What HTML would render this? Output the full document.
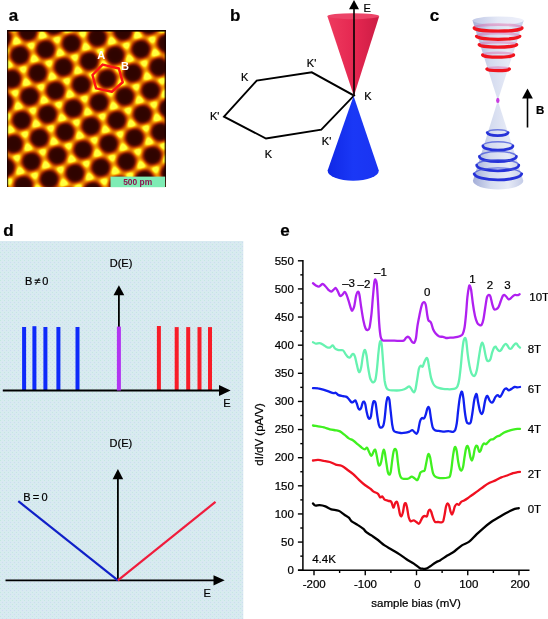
<!DOCTYPE html>
<html><head><meta charset="utf-8"><title>figure</title>
<style>html,body{margin:0;padding:0;background:#fff}svg{display:block;opacity:0.999}text{font-family:"Liberation Sans",sans-serif}text:not([fill]){stroke:#000;stroke-width:.22px}</style></head>
<body>
<svg width="548" height="619" viewBox="0 0 548 619">
<rect width="548" height="619" fill="#fff"/>
<defs><filter id="stm" filterUnits="userSpaceOnUse" x="-20" y="0" width="220" height="220" color-interpolation-filters="sRGB"><feComponentTransfer><feFuncR type="table" tableValues="0.188 0.197 0.207 0.216 0.225 0.234 0.243 0.270 0.297 0.324 0.351 0.378 0.405 0.432 0.459 0.486 0.513 0.540 0.566 0.593 0.620 0.646 0.673 0.700 0.726 0.753 0.774 0.795 0.816 0.837 0.858 0.878 0.899 0.916 0.928 0.940 0.953 0.965 0.974 0.982 0.991 1.000 1.000 1.000 1.000 1.000 1.000 1.000 1.000 1.000 1.000"/><feFuncG type="table" tableValues="0.016 0.018 0.020 0.022 0.024 0.025 0.027 0.035 0.042 0.050 0.057 0.064 0.072 0.079 0.087 0.094 0.113 0.132 0.151 0.169 0.188 0.207 0.226 0.245 0.264 0.282 0.312 0.341 0.370 0.399 0.429 0.458 0.487 0.521 0.559 0.598 0.636 0.675 0.729 0.784 0.839 0.894 0.929 0.965 1.000 1.000 1.000 1.000 1.000 1.000 1.000"/><feFuncB type="table" tableValues="0.000 0.000 0.000 0.000 0.000 0.000 0.000 0.000 0.000 0.000 0.000 0.000 0.000 0.000 0.000 0.000 0.000 0.000 0.000 0.000 0.000 0.000 0.000 0.000 0.000 0.000 0.000 0.000 0.000 0.000 0.000 0.000 0.000 0.003 0.010 0.017 0.024 0.031 0.055 0.078 0.102 0.125 0.157 0.188 0.220 0.230 0.241 0.251 0.261 0.272 0.282"/></feComponentTransfer></filter>
<filter id="blA" filterUnits="userSpaceOnUse" x="-20" y="0" width="220" height="220" color-interpolation-filters="sRGB"><feGaussianBlur stdDeviation="2.20"/></filter>
<filter id="blB" filterUnits="userSpaceOnUse" x="-20" y="0" width="220" height="220" color-interpolation-filters="sRGB"><feGaussianBlur stdDeviation="2.00"/></filter>
<clipPath id="stmclip"><rect x="7" y="30" width="159" height="157"/></clipPath>
<linearGradient id="gred" x1="0" x2="1"><stop offset="0" stop-color="#ee3a5e"/><stop offset="0.55" stop-color="#e42650"/><stop offset="1" stop-color="#cc1c44"/></linearGradient>
<linearGradient id="gblue" x1="0" x2="1"><stop offset="0" stop-color="#1028e6"/><stop offset="0.5" stop-color="#1a38f6"/><stop offset="1" stop-color="#1a34f2"/></linearGradient>
<linearGradient id="gcone" x1="0" x2="1"><stop offset="0" stop-color="#a4aed8"/><stop offset="0.35" stop-color="#d4dbef"/><stop offset="0.7" stop-color="#e6eaf6"/><stop offset="1" stop-color="#c4cce8"/></linearGradient>
<linearGradient id="gtop" x1="0" x2="1"><stop offset="0" stop-color="#c0c8e6"/><stop offset="0.5" stop-color="#e4e8f6"/><stop offset="1" stop-color="#eef0fa"/></linearGradient>
<pattern id="dots" width="4" height="4" patternUnits="userSpaceOnUse"><rect width="4" height="4" fill="#d8eaf0"/><rect x="0" y="0" width="1" height="1" fill="#c4e8e0"/><rect x="2" y="2" width="1" height="1" fill="#ccdcf0"/></pattern></defs>
<text x="8.7" y="20.5" font-size="17" font-weight="bold">a</text>
<g clip-path="url(#stmclip)"><g filter="url(#stm)"><g filter="url(#blA)"><rect x="-20" y="0" width="220" height="220" fill="#a0a0a0"/>
<circle cx="8.9" cy="181.3" r="4.6" fill="#fff"/>
<circle cx="2.4" cy="153.7" r="5.3" fill="#fff"/>
<circle cx="16.9" cy="157.6" r="4.6" fill="#fff"/>
<circle cx="20.1" cy="171.4" r="5.3" fill="#fff"/>
<circle cx="34.7" cy="175.3" r="4.6" fill="#fff"/>
<circle cx="37.9" cy="189.1" r="5.3" fill="#fff"/>
<circle cx="7.1" cy="116.3" r="4.6" fill="#fff"/>
<circle cx="10.4" cy="130.1" r="5.3" fill="#fff"/>
<circle cx="24.9" cy="134.0" r="4.6" fill="#fff"/>
<circle cx="28.2" cy="147.8" r="5.3" fill="#fff"/>
<circle cx="42.7" cy="151.7" r="4.6" fill="#fff"/>
<circle cx="45.9" cy="165.5" r="5.3" fill="#fff"/>
<circle cx="60.5" cy="169.4" r="4.6" fill="#fff"/>
<circle cx="63.7" cy="183.2" r="5.3" fill="#fff"/>
<circle cx="78.3" cy="187.1" r="4.6" fill="#fff"/>
<circle cx="15.2" cy="92.7" r="4.6" fill="#fff"/>
<circle cx="18.4" cy="106.5" r="5.3" fill="#fff"/>
<circle cx="32.9" cy="110.4" r="4.6" fill="#fff"/>
<circle cx="36.2" cy="124.2" r="5.3" fill="#fff"/>
<circle cx="50.7" cy="128.1" r="4.6" fill="#fff"/>
<circle cx="54.0" cy="141.9" r="5.3" fill="#fff"/>
<circle cx="68.5" cy="145.8" r="4.6" fill="#fff"/>
<circle cx="71.7" cy="159.6" r="5.3" fill="#fff"/>
<circle cx="86.3" cy="163.5" r="4.6" fill="#fff"/>
<circle cx="89.5" cy="177.3" r="5.3" fill="#fff"/>
<circle cx="104.1" cy="181.2" r="4.6" fill="#fff"/>
<circle cx="5.4" cy="51.4" r="4.6" fill="#fff"/>
<circle cx="8.6" cy="65.1" r="5.3" fill="#fff"/>
<circle cx="23.2" cy="69.1" r="4.6" fill="#fff"/>
<circle cx="26.4" cy="82.8" r="5.3" fill="#fff"/>
<circle cx="41.0" cy="86.8" r="4.6" fill="#fff"/>
<circle cx="44.2" cy="100.5" r="5.3" fill="#fff"/>
<circle cx="58.7" cy="104.5" r="4.6" fill="#fff"/>
<circle cx="62.0" cy="118.2" r="5.3" fill="#fff"/>
<circle cx="76.5" cy="122.2" r="4.6" fill="#fff"/>
<circle cx="79.8" cy="135.9" r="5.3" fill="#fff"/>
<circle cx="94.3" cy="139.9" r="4.6" fill="#fff"/>
<circle cx="97.5" cy="153.6" r="5.3" fill="#fff"/>
<circle cx="112.1" cy="157.6" r="4.6" fill="#fff"/>
<circle cx="115.3" cy="171.3" r="5.3" fill="#fff"/>
<circle cx="129.9" cy="175.3" r="4.6" fill="#fff"/>
<circle cx="133.1" cy="189.0" r="5.3" fill="#fff"/>
<circle cx="147.6" cy="193.0" r="4.6" fill="#fff"/>
<circle cx="13.4" cy="27.7" r="4.6" fill="#fff"/>
<circle cx="16.7" cy="41.5" r="5.3" fill="#fff"/>
<circle cx="31.2" cy="45.4" r="4.6" fill="#fff"/>
<circle cx="34.4" cy="59.2" r="5.3" fill="#fff"/>
<circle cx="49.0" cy="63.1" r="4.6" fill="#fff"/>
<circle cx="52.2" cy="76.9" r="5.3" fill="#fff"/>
<circle cx="66.8" cy="80.8" r="4.6" fill="#fff"/>
<circle cx="70.0" cy="94.6" r="5.3" fill="#fff"/>
<circle cx="84.5" cy="98.5" r="4.6" fill="#fff"/>
<circle cx="87.8" cy="112.3" r="5.3" fill="#fff"/>
<circle cx="102.3" cy="116.2" r="4.6" fill="#fff"/>
<circle cx="105.6" cy="130.0" r="5.3" fill="#fff"/>
<circle cx="120.1" cy="133.9" r="4.6" fill="#fff"/>
<circle cx="123.3" cy="147.7" r="5.3" fill="#fff"/>
<circle cx="137.9" cy="151.6" r="4.6" fill="#fff"/>
<circle cx="141.1" cy="165.4" r="5.3" fill="#fff"/>
<circle cx="155.7" cy="169.3" r="4.6" fill="#fff"/>
<circle cx="158.9" cy="183.1" r="5.3" fill="#fff"/>
<circle cx="42.5" cy="35.6" r="5.3" fill="#fff"/>
<circle cx="57.0" cy="39.5" r="4.6" fill="#fff"/>
<circle cx="60.2" cy="53.3" r="5.3" fill="#fff"/>
<circle cx="74.8" cy="57.2" r="4.6" fill="#fff"/>
<circle cx="78.0" cy="71.0" r="5.3" fill="#fff"/>
<circle cx="92.6" cy="74.9" r="4.6" fill="#fff"/>
<circle cx="95.8" cy="88.7" r="5.3" fill="#fff"/>
<circle cx="110.3" cy="92.6" r="4.6" fill="#fff"/>
<circle cx="113.6" cy="106.4" r="5.3" fill="#fff"/>
<circle cx="128.1" cy="110.3" r="4.6" fill="#fff"/>
<circle cx="131.4" cy="124.1" r="5.3" fill="#fff"/>
<circle cx="145.9" cy="128.0" r="4.6" fill="#fff"/>
<circle cx="149.1" cy="141.8" r="5.3" fill="#fff"/>
<circle cx="163.7" cy="145.7" r="4.6" fill="#fff"/>
<circle cx="166.9" cy="159.5" r="5.3" fill="#fff"/>
<circle cx="68.3" cy="29.6" r="5.3" fill="#fff"/>
<circle cx="82.8" cy="33.6" r="4.6" fill="#fff"/>
<circle cx="86.0" cy="47.3" r="5.3" fill="#fff"/>
<circle cx="100.6" cy="51.3" r="4.6" fill="#fff"/>
<circle cx="103.8" cy="65.0" r="5.3" fill="#fff"/>
<circle cx="118.4" cy="69.0" r="4.6" fill="#fff"/>
<circle cx="121.6" cy="82.7" r="5.3" fill="#fff"/>
<circle cx="136.1" cy="86.7" r="4.6" fill="#fff"/>
<circle cx="139.4" cy="100.4" r="5.3" fill="#fff"/>
<circle cx="153.9" cy="104.4" r="4.6" fill="#fff"/>
<circle cx="157.2" cy="118.1" r="5.3" fill="#fff"/>
<circle cx="171.7" cy="122.1" r="4.6" fill="#fff"/>
<circle cx="108.6" cy="27.6" r="4.6" fill="#fff"/>
<circle cx="111.8" cy="41.4" r="5.3" fill="#fff"/>
<circle cx="126.4" cy="45.3" r="4.6" fill="#fff"/>
<circle cx="129.6" cy="59.1" r="5.3" fill="#fff"/>
<circle cx="144.2" cy="63.0" r="4.6" fill="#fff"/>
<circle cx="147.4" cy="76.8" r="5.3" fill="#fff"/>
<circle cx="161.9" cy="80.7" r="4.6" fill="#fff"/>
<circle cx="165.2" cy="94.5" r="5.3" fill="#fff"/>
<circle cx="137.6" cy="35.5" r="5.3" fill="#fff"/>
<circle cx="152.2" cy="39.4" r="4.6" fill="#fff"/>
<circle cx="155.4" cy="53.2" r="5.3" fill="#fff"/>
<circle cx="170.0" cy="57.1" r="4.6" fill="#fff"/>
<circle cx="163.4" cy="29.6" r="5.3" fill="#fff"/>
</g><g filter="url(#blB)">
<circle cx="-2.4" cy="191.1" r="9.2" fill="#000"/>
<circle cx="5.6" cy="167.5" r="9.2" fill="#000"/>
<circle cx="23.4" cy="185.2" r="9.2" fill="#000"/>
<circle cx="41.2" cy="202.9" r="9.2" fill="#000"/>
<circle cx="-4.1" cy="126.2" r="9.2" fill="#000"/>
<circle cx="13.6" cy="143.9" r="9.2" fill="#000"/>
<circle cx="31.4" cy="161.6" r="9.2" fill="#000"/>
<circle cx="49.2" cy="179.3" r="9.2" fill="#000"/>
<circle cx="67.0" cy="197.0" r="9.2" fill="#000"/>
<circle cx="3.9" cy="102.5" r="9.2" fill="#000"/>
<circle cx="21.7" cy="120.2" r="9.2" fill="#000"/>
<circle cx="39.4" cy="137.9" r="9.2" fill="#000"/>
<circle cx="57.2" cy="155.6" r="9.2" fill="#000"/>
<circle cx="75.0" cy="173.3" r="9.2" fill="#000"/>
<circle cx="92.8" cy="191.0" r="9.2" fill="#000"/>
<circle cx="-5.9" cy="61.2" r="9.2" fill="#000"/>
<circle cx="11.9" cy="78.9" r="9.2" fill="#000"/>
<circle cx="29.7" cy="96.6" r="9.2" fill="#000"/>
<circle cx="47.5" cy="114.3" r="9.2" fill="#000"/>
<circle cx="65.2" cy="132.0" r="9.2" fill="#000"/>
<circle cx="83.0" cy="149.7" r="9.2" fill="#000"/>
<circle cx="100.8" cy="167.4" r="9.2" fill="#000"/>
<circle cx="118.6" cy="185.1" r="9.2" fill="#000"/>
<circle cx="136.4" cy="202.8" r="9.2" fill="#000"/>
<circle cx="2.1" cy="37.6" r="9.2" fill="#000"/>
<circle cx="19.9" cy="55.3" r="9.2" fill="#000"/>
<circle cx="37.7" cy="73.0" r="9.2" fill="#000"/>
<circle cx="55.5" cy="90.7" r="9.2" fill="#000"/>
<circle cx="73.3" cy="108.4" r="9.2" fill="#000"/>
<circle cx="91.0" cy="126.1" r="9.2" fill="#000"/>
<circle cx="108.8" cy="143.8" r="9.2" fill="#000"/>
<circle cx="126.6" cy="161.5" r="9.2" fill="#000"/>
<circle cx="144.4" cy="179.2" r="9.2" fill="#000"/>
<circle cx="162.2" cy="196.9" r="9.2" fill="#000"/>
<circle cx="27.9" cy="31.7" r="9.2" fill="#000"/>
<circle cx="45.7" cy="49.4" r="9.2" fill="#000"/>
<circle cx="63.5" cy="67.0" r="9.2" fill="#000"/>
<circle cx="81.3" cy="84.8" r="9.2" fill="#000"/>
<circle cx="99.1" cy="102.5" r="9.2" fill="#000"/>
<circle cx="116.8" cy="120.2" r="9.2" fill="#000"/>
<circle cx="134.6" cy="137.8" r="9.2" fill="#000"/>
<circle cx="152.4" cy="155.6" r="9.2" fill="#000"/>
<circle cx="170.2" cy="173.2" r="9.2" fill="#000"/>
<circle cx="53.7" cy="25.7" r="9.2" fill="#000"/>
<circle cx="71.5" cy="43.4" r="9.2" fill="#000"/>
<circle cx="89.3" cy="61.1" r="9.2" fill="#000"/>
<circle cx="107.1" cy="78.8" r="9.2" fill="#000"/>
<circle cx="124.9" cy="96.5" r="9.2" fill="#000"/>
<circle cx="142.6" cy="114.2" r="9.2" fill="#000"/>
<circle cx="160.4" cy="131.9" r="9.2" fill="#000"/>
<circle cx="178.2" cy="149.6" r="9.2" fill="#000"/>
<circle cx="79.5" cy="19.8" r="9.2" fill="#000"/>
<circle cx="97.3" cy="37.5" r="9.2" fill="#000"/>
<circle cx="115.1" cy="55.2" r="9.2" fill="#000"/>
<circle cx="132.9" cy="72.9" r="9.2" fill="#000"/>
<circle cx="150.7" cy="90.6" r="9.2" fill="#000"/>
<circle cx="168.4" cy="108.3" r="9.2" fill="#000"/>
<circle cx="123.1" cy="31.6" r="9.2" fill="#000"/>
<circle cx="140.9" cy="49.3" r="9.2" fill="#000"/>
<circle cx="158.7" cy="67.0" r="9.2" fill="#000"/>
<circle cx="176.5" cy="84.7" r="9.2" fill="#000"/>
<circle cx="148.9" cy="25.6" r="9.2" fill="#000"/>
<circle cx="166.7" cy="43.3" r="9.2" fill="#000"/>
<circle cx="174.7" cy="19.7" r="9.2" fill="#000"/>
</g></g>
<rect x="7" y="30" width="159" height="1.6" fill="#180000"/>
<rect x="7" y="30" width="1.2" height="157" fill="#180000" opacity="0.8"/>
<rect x="164.6" y="30" width="1.4" height="157" fill="#180000" opacity="0.8"/>
</g>
<polygon points="102.6,64.6 118.9,68.5 122.7,82.2 111.9,91.8 96.1,88.4 92.5,75" fill="none" stroke="#ff1414" stroke-width="2.5" stroke-linejoin="round"/>
<text x="97.3" y="58.5" font-size="11" font-weight="bold" fill="#fff">A</text>
<text x="121" y="69.7" font-size="11" font-weight="bold" fill="#fff">B</text>
<rect x="110.5" y="176.6" width="54.6" height="10.6" fill="#7eecb4"/>
<text x="123.2" y="185.4" font-size="8.6" font-weight="bold" fill="#8c1450" textLength="29" lengthAdjust="spacingAndGlyphs">500 pm</text>
<text x="229.9" y="20.8" font-size="17" font-weight="bold">b</text>
<polygon points="224,116.7 256.7,80.6 311.8,72.3 354,95.6 321.3,129.7 266,138.5" fill="none" stroke="#000" stroke-width="1.9" stroke-linejoin="miter"/>
<path d="M327.4 16.2 L353.9 96 L379.2 16.2 Z" fill="url(#gred)"/>
<ellipse cx="353.3" cy="16.2" rx="25.9" ry="3" fill="#ec4468"/>
<path d="M353.6 96 L327.6 170.5 A25.6 10.3 0 0 0 378.8 170.5 Z" fill="url(#gblue)"/>
<line x1="354" y1="6" x2="354" y2="96" stroke="#000" stroke-width="1.6"/>
<polygon points="354,0 349,9.2 359,9.2" fill="#000"/>
<text x="363.6" y="11.9" font-size="11">E</text>
<text x="240.9" y="81.1" font-size="11">K</text>
<text x="306.8" y="67.3" font-size="11">K'</text>
<text x="364.2" y="100.4" font-size="11">K</text>
<text x="210.0" y="119.8" font-size="11">K'</text>
<text x="264.8" y="157.5" font-size="11">K</text>
<text x="321.8" y="144.7" font-size="11">K'</text>
<text x="429.8" y="20.8" font-size="17" font-weight="bold">c</text>
<path d="M472.5 20.5 L497.8 100.4 L523.7 20.5 Z" fill="url(#gcone)"/>
<ellipse cx="498.1" cy="20.5" rx="25.6" ry="4" fill="url(#gtop)"/>
<path d="M497.8 100.4 L472.9 180.7 A25.2 8.8 0 0 0 523.3 180.7 Z" fill="url(#gcone)"/>
<path d="M474.2 27.9 A23.9 3.3 0 0 1 522.0 27.9" fill="none" stroke="#e0509a" stroke-opacity="0.38" stroke-width="2.6"/>
<path d="M474.2 27.9 A23.9 3.3 0 0 0 522.0 27.9" fill="none" stroke="#f0141e" stroke-width="3.3" stroke-linecap="round"/>
<path d="M476.5 36.3 A21.7 3.0 0 0 1 519.9 36.3" fill="none" stroke="#e0509a" stroke-opacity="0.38" stroke-width="2.6"/>
<path d="M476.5 36.3 A21.7 3.0 0 0 0 519.9 36.3" fill="none" stroke="#f0141e" stroke-width="3.3" stroke-linecap="round"/>
<path d="M479.3 44.7 A18.7 2.6 0 0 1 516.6 44.7" fill="none" stroke="#e0509a" stroke-opacity="0.38" stroke-width="2.6"/>
<path d="M479.3 44.7 A18.7 2.6 0 0 0 516.6 44.7" fill="none" stroke="#f0141e" stroke-width="3.3" stroke-linecap="round"/>
<path d="M482.6 55.0 A15.5 2.2 0 0 1 513.6 55.0" fill="none" stroke="#e0509a" stroke-opacity="0.38" stroke-width="2.6"/>
<path d="M482.6 55.0 A15.5 2.2 0 0 0 513.6 55.0" fill="none" stroke="#f0141e" stroke-width="3.3" stroke-linecap="round"/>
<path d="M487.0 69.1 A11.2 1.6 0 0 1 509.3 69.1" fill="none" stroke="#e0509a" stroke-opacity="0.38" stroke-width="2.6"/>
<path d="M487.0 69.1 A11.2 1.6 0 0 0 509.3 69.1" fill="none" stroke="#f0141e" stroke-width="3.3" stroke-linecap="round"/>
<path d="M487.2 132.7 A10.5 3.3 0 0 1 508.1 132.7" fill="none" stroke="#4656d8" stroke-opacity="0.75" stroke-width="1.4"/>
<path d="M487.2 132.7 A10.5 3.3 0 0 0 508.1 132.7" fill="none" stroke="#2632d8" stroke-width="2.8" stroke-linecap="round"/>
<path d="M482.9 145.9 A15.0 4.2 0 0 1 512.9 145.9" fill="none" stroke="#4656d8" stroke-opacity="0.75" stroke-width="1.4"/>
<path d="M482.9 145.9 A15.0 4.2 0 0 0 512.9 145.9" fill="none" stroke="#2632d8" stroke-width="2.8" stroke-linecap="round"/>
<path d="M479.4 156.5 A18.5 5.0 0 0 1 516.4 156.5" fill="none" stroke="#4656d8" stroke-opacity="0.75" stroke-width="1.4"/>
<path d="M479.4 156.5 A18.5 5.0 0 0 0 516.4 156.5" fill="none" stroke="#2632d8" stroke-width="2.8" stroke-linecap="round"/>
<path d="M476.7 165.2 A21.0 5.6 0 0 1 518.8 165.2" fill="none" stroke="#4656d8" stroke-opacity="0.75" stroke-width="1.4"/>
<path d="M476.7 165.2 A21.0 5.6 0 0 0 518.8 165.2" fill="none" stroke="#2632d8" stroke-width="2.8" stroke-linecap="round"/>
<path d="M474.2 173.9 A23.8 6.4 0 0 1 521.7 173.9" fill="none" stroke="#4656d8" stroke-opacity="0.75" stroke-width="1.4"/>
<path d="M474.2 173.9 A23.8 6.4 0 0 0 521.7 173.9" fill="none" stroke="#2632d8" stroke-width="2.8" stroke-linecap="round"/>
<ellipse cx="497.8" cy="100.4" rx="1.7" ry="2.6" fill="#c83ce0"/>
<line x1="527.5" y1="96" x2="527.5" y2="127.5" stroke="#000" stroke-width="1.6"/>
<polygon points="527.5,88.5 522.1,98.4 532.9,98.4" fill="#000"/>
<text x="536" y="114" font-size="11.5" font-weight="bold">B</text>
<text x="3.3" y="235.6" font-size="17" font-weight="bold">d</text>
<rect x="0" y="241" width="243.3" height="378" fill="url(#dots)"/>
<rect x="22.10" y="327.0" width="4" height="63.5" fill="#0e2afa"/>
<rect x="32.40" y="326.2" width="4" height="64.3" fill="#0e2afa"/>
<rect x="43.40" y="327.0" width="4" height="63.5" fill="#0e2afa"/>
<rect x="56.40" y="327.0" width="4" height="63.5" fill="#0e2afa"/>
<rect x="75.50" y="327.0" width="4" height="63.5" fill="#0e2afa"/>
<rect x="156.90" y="326.0" width="4" height="64.5" fill="#f81c28"/>
<rect x="174.70" y="327.1" width="4" height="63.4" fill="#f81c28"/>
<rect x="186.20" y="327.1" width="4" height="63.4" fill="#f81c28"/>
<rect x="197.50" y="327.1" width="4" height="63.4" fill="#f81c28"/>
<rect x="208.00" y="327.1" width="4" height="63.4" fill="#f81c28"/>
<line x1="2.8" y1="390.5" x2="222" y2="390.5" stroke="#000" stroke-width="1.8"/>
<polygon points="230.6,390.5 219,385.1 219,395.9" fill="#000"/>
<line x1="118.9" y1="294" x2="118.9" y2="390.3" stroke="#000" stroke-width="1.8"/>
<polygon points="118.9,285.2 113.5,295.2 124.3,295.2" fill="#000"/>
<rect x="116.9" y="326.6" width="4" height="63.9" fill="#b234f2"/>
<text x="109.7" y="267" font-size="11">D(E)</text>
<text x="223.2" y="407.2" font-size="11">E</text>
<text x="25" y="284.7" font-size="11" textLength="23.3">B≠0</text>
<line x1="5.5" y1="580.3" x2="216" y2="580.3" stroke="#000" stroke-width="1.8"/>
<polygon points="224.7,580.3 213.5,575.2 213.5,585.4" fill="#000"/>
<line x1="117.9" y1="478" x2="117.9" y2="580.3" stroke="#000" stroke-width="1.8"/>
<polygon points="117.9,469 112.6,479.3 123.2,479.3" fill="#000"/>
<line x1="18.3" y1="501.2" x2="117.9" y2="580.3" stroke="#1020c8" stroke-width="2.2"/>
<line x1="117.9" y1="580.3" x2="215.5" y2="501.9" stroke="#f01c3c" stroke-width="2.2"/>
<text x="109.6" y="447.2" font-size="11">D(E)</text>
<text x="203.4" y="596.7" font-size="11">E</text>
<text x="23.3" y="500.5" font-size="11" textLength="24.2">B=0</text>
<text x="280.2" y="235.9" font-size="17" font-weight="bold">e</text>
<line x1="302.9" y1="260.0" x2="302.9" y2="571.0" stroke="#000" stroke-width="1.5"/>
<line x1="298.0" y1="570.2" x2="529.5" y2="570.2" stroke="#000" stroke-width="1.5"/>
<line x1="297.9" y1="570.20" x2="302.9" y2="570.20" stroke="#000" stroke-width="1.4"/>
<text x="293.9" y="573.90" font-size="11.5" text-anchor="end">0</text>
<line x1="300.3" y1="556.14" x2="302.9" y2="556.14" stroke="#000" stroke-width="1.4"/>
<line x1="297.9" y1="542.07" x2="302.9" y2="542.07" stroke="#000" stroke-width="1.4"/>
<text x="293.9" y="545.77" font-size="11.5" text-anchor="end">50</text>
<line x1="300.3" y1="528.01" x2="302.9" y2="528.01" stroke="#000" stroke-width="1.4"/>
<line x1="297.9" y1="513.95" x2="302.9" y2="513.95" stroke="#000" stroke-width="1.4"/>
<text x="293.9" y="517.65" font-size="11.5" text-anchor="end">100</text>
<line x1="300.3" y1="499.88" x2="302.9" y2="499.88" stroke="#000" stroke-width="1.4"/>
<line x1="297.9" y1="485.82" x2="302.9" y2="485.82" stroke="#000" stroke-width="1.4"/>
<text x="293.9" y="489.52" font-size="11.5" text-anchor="end">150</text>
<line x1="300.3" y1="471.75" x2="302.9" y2="471.75" stroke="#000" stroke-width="1.4"/>
<line x1="297.9" y1="457.69" x2="302.9" y2="457.69" stroke="#000" stroke-width="1.4"/>
<text x="293.9" y="461.39" font-size="11.5" text-anchor="end">200</text>
<line x1="300.3" y1="443.63" x2="302.9" y2="443.63" stroke="#000" stroke-width="1.4"/>
<line x1="297.9" y1="429.56" x2="302.9" y2="429.56" stroke="#000" stroke-width="1.4"/>
<text x="293.9" y="433.26" font-size="11.5" text-anchor="end">250</text>
<line x1="300.3" y1="415.50" x2="302.9" y2="415.50" stroke="#000" stroke-width="1.4"/>
<line x1="297.9" y1="401.44" x2="302.9" y2="401.44" stroke="#000" stroke-width="1.4"/>
<text x="293.9" y="405.14" font-size="11.5" text-anchor="end">300</text>
<line x1="300.3" y1="387.37" x2="302.9" y2="387.37" stroke="#000" stroke-width="1.4"/>
<line x1="297.9" y1="373.31" x2="302.9" y2="373.31" stroke="#000" stroke-width="1.4"/>
<text x="293.9" y="377.01" font-size="11.5" text-anchor="end">350</text>
<line x1="300.3" y1="359.25" x2="302.9" y2="359.25" stroke="#000" stroke-width="1.4"/>
<line x1="297.9" y1="345.18" x2="302.9" y2="345.18" stroke="#000" stroke-width="1.4"/>
<text x="293.9" y="348.88" font-size="11.5" text-anchor="end">400</text>
<line x1="300.3" y1="331.12" x2="302.9" y2="331.12" stroke="#000" stroke-width="1.4"/>
<line x1="297.9" y1="317.05" x2="302.9" y2="317.05" stroke="#000" stroke-width="1.4"/>
<text x="293.9" y="320.75" font-size="11.5" text-anchor="end">450</text>
<line x1="300.3" y1="302.99" x2="302.9" y2="302.99" stroke="#000" stroke-width="1.4"/>
<line x1="297.9" y1="288.93" x2="302.9" y2="288.93" stroke="#000" stroke-width="1.4"/>
<text x="293.9" y="292.63" font-size="11.5" text-anchor="end">500</text>
<line x1="300.3" y1="274.86" x2="302.9" y2="274.86" stroke="#000" stroke-width="1.4"/>
<line x1="297.9" y1="260.80" x2="302.9" y2="260.80" stroke="#000" stroke-width="1.4"/>
<text x="293.9" y="264.50" font-size="11.5" text-anchor="end">550</text>
<line x1="314.00" y1="570.2" x2="314.00" y2="575.2" stroke="#000" stroke-width="1.4"/>
<text x="314.20" y="588.2" font-size="11.5" text-anchor="middle">-200</text>
<line x1="339.62" y1="570.2" x2="339.62" y2="573.0" stroke="#000" stroke-width="1.4"/>
<line x1="365.25" y1="570.2" x2="365.25" y2="575.2" stroke="#000" stroke-width="1.4"/>
<text x="365.45" y="588.2" font-size="11.5" text-anchor="middle">-100</text>
<line x1="390.88" y1="570.2" x2="390.88" y2="573.0" stroke="#000" stroke-width="1.4"/>
<line x1="416.50" y1="570.2" x2="416.50" y2="575.2" stroke="#000" stroke-width="1.4"/>
<text x="417.50" y="588.2" font-size="11.5" text-anchor="middle">0</text>
<line x1="442.12" y1="570.2" x2="442.12" y2="573.0" stroke="#000" stroke-width="1.4"/>
<line x1="467.75" y1="570.2" x2="467.75" y2="575.2" stroke="#000" stroke-width="1.4"/>
<text x="468.75" y="588.2" font-size="11.5" text-anchor="middle">100</text>
<line x1="493.38" y1="570.2" x2="493.38" y2="573.0" stroke="#000" stroke-width="1.4"/>
<line x1="519.00" y1="570.2" x2="519.00" y2="575.2" stroke="#000" stroke-width="1.4"/>
<text x="520.00" y="588.2" font-size="11.5" text-anchor="middle">200</text>
<text x="371.3" y="607" font-size="11.5">sample bias (mV)</text>
<text transform="translate(263.2,465.7) rotate(-90)" font-size="11.5">dI/dV (pA/V)</text>
<text x="312.2" y="562.9" font-size="11.5">4.4K</text>
<path d="M313.0 503.5C313.4 503.8 314.1 505.2 315.2 505.5C316.3 505.8 317.9 505.1 319.6 505.2C321.3 505.3 323.4 505.7 325.4 506.4C327.3 507.1 329.1 508.6 331.3 509.3C333.5 510.0 336.4 509.9 338.6 510.8C340.8 511.7 342.7 513.6 344.4 514.7C346.1 515.8 347.6 516.5 348.8 517.6C350.0 518.7 350.2 520.1 351.7 521.3C353.2 522.5 355.7 523.6 357.6 524.9C359.6 526.2 361.9 527.7 363.4 528.9C364.8 530.1 364.8 531.0 366.3 532.2C367.8 533.4 370.2 534.6 372.2 535.9C374.1 537.2 375.9 538.4 378.0 540.0C380.1 541.6 382.3 543.8 384.6 545.4C386.9 547.0 389.5 548.2 391.9 549.7C394.3 551.2 396.8 552.5 399.2 554.1C401.6 555.7 404.1 557.6 406.5 559.2C408.9 560.8 411.6 562.1 413.8 563.6C416.0 565.1 418.1 567.1 419.6 568.0C421.1 568.9 421.5 568.6 422.6 568.7C423.7 568.8 425.0 569.1 426.2 568.7C427.4 568.3 428.3 567.5 429.9 566.5C431.5 565.5 434.0 563.4 435.7 562.4C437.4 561.4 438.1 561.5 440.0 560.4C441.9 559.3 444.9 557.1 447.3 555.6C449.7 554.1 452.2 552.9 454.6 551.2C457.0 549.5 459.5 547.0 461.9 545.4C464.3 543.8 466.8 543.5 469.2 541.7C471.6 539.9 474.1 536.7 476.5 534.4C478.9 532.1 481.4 529.9 483.8 527.8C486.2 525.7 488.7 523.7 491.1 522.0C493.5 520.3 496.0 519.1 498.4 517.6C500.8 516.1 503.3 514.5 505.7 513.2C508.1 511.9 510.8 510.5 513.0 509.6C515.2 508.8 517.8 508.4 518.8 508.1" fill="none" stroke="#000000" stroke-width="2.3" stroke-linejoin="round" stroke-linecap="round"/>
<path d="M313.0 460.5C313.9 460.4 316.3 459.8 318.1 459.9C319.9 460.0 322.1 460.5 324.0 460.9C325.9 461.2 327.9 461.4 329.8 462.0C331.8 462.6 333.8 464.0 335.7 464.6C337.6 465.2 339.6 465.0 341.5 465.8C343.4 466.6 345.4 468.3 347.3 469.7C349.2 471.1 351.2 472.4 353.2 474.1C355.1 475.8 357.1 478.1 359.0 479.9C360.9 481.7 362.9 483.5 364.9 485.0C366.8 486.5 369.2 487.9 370.7 489.0C372.1 490.1 372.4 490.8 373.6 491.6C374.8 492.4 376.9 492.8 378.0 493.8C379.1 494.8 379.5 497.0 380.2 497.4C380.9 497.8 381.7 496.0 382.4 496.4C383.1 496.8 383.6 498.9 384.6 499.6C385.6 500.3 387.1 500.4 388.2 500.8C389.3 501.2 390.3 500.7 391.2 501.8C392.1 502.9 392.8 507.4 393.4 507.7C394.0 507.9 394.5 504.3 395.1 503.3C395.7 502.3 396.4 501.2 397.0 501.8C397.6 502.4 398.0 504.8 398.5 506.9C399.0 509.0 399.4 512.6 399.9 514.2C400.4 515.8 400.9 516.6 401.4 516.4C401.9 516.2 402.3 514.8 402.8 512.8C403.3 510.8 403.8 506.3 404.3 504.7C404.8 503.1 405.3 502.7 405.8 503.3C406.3 503.9 406.7 506.1 407.2 508.4C407.7 510.7 408.1 515.1 408.7 517.2C409.3 519.3 409.8 520.7 410.6 521.2C411.5 521.7 412.8 520.2 413.8 520.4C414.8 520.6 415.9 521.8 416.7 522.3C417.5 522.8 418.2 524.0 418.9 523.7C419.6 523.5 420.2 521.9 420.8 520.8C421.4 519.7 422.0 518.0 422.6 517.2C423.2 516.4 424.0 516.1 424.7 516.0C425.4 515.9 426.3 517.2 426.9 516.4C427.5 515.6 427.9 512.4 428.4 511.3C428.9 510.2 429.4 509.5 429.9 509.6C430.4 509.7 430.8 510.6 431.3 512.0C431.8 513.4 432.5 516.3 433.1 517.9C433.7 519.5 434.2 521.1 435.0 521.8C435.8 522.5 436.8 521.9 437.9 522.0C439.0 522.1 440.6 522.5 441.5 522.3C442.4 522.1 442.8 522.1 443.3 520.8C443.8 519.4 444.2 516.6 444.7 514.2C445.2 511.8 445.6 508.0 446.1 506.2C446.6 504.4 447.1 503.4 447.6 503.3C448.1 503.2 448.6 504.2 449.1 505.5C449.6 506.8 450.0 509.8 450.5 511.3C451.0 512.8 451.5 514.5 452.0 514.5C452.5 514.5 452.9 512.7 453.4 511.3C453.9 509.9 454.3 507.4 454.9 506.2C455.5 505.0 456.1 504.2 456.8 504.0C457.5 503.8 458.3 505.1 459.0 504.7C459.7 504.3 460.3 502.5 461.2 501.8C462.1 501.1 463.0 501.0 464.1 500.4C465.2 499.8 466.4 499.1 467.7 498.2C469.0 497.3 470.4 496.2 472.1 495.0C473.8 493.8 476.1 492.3 478.0 490.9C479.9 489.5 481.9 487.9 483.8 486.5C485.7 485.1 487.7 483.8 489.6 482.8C491.6 481.8 493.6 481.3 495.5 480.4C497.4 479.5 499.4 478.2 501.3 477.4C503.2 476.6 505.2 476.2 507.2 475.5C509.1 474.8 511.3 473.7 513.0 473.1C514.7 472.6 516.2 472.4 517.4 472.2C518.6 472.0 519.6 471.9 520.0 471.9" fill="none" stroke="#f01020" stroke-width="2.3" stroke-linejoin="round" stroke-linecap="round"/>
<path d="M313.0 425.5C313.9 425.6 316.3 426.1 318.1 426.4C319.9 426.7 322.1 426.9 324.0 427.4C325.9 427.9 327.9 428.8 329.8 429.3C331.8 429.8 334.0 430.0 335.7 430.3C337.4 430.6 338.6 430.7 340.0 431.4C341.4 432.1 342.9 433.5 344.4 434.7C345.9 435.9 347.3 437.4 348.8 438.4C350.3 439.4 351.7 439.5 353.2 440.5C354.7 441.5 356.2 443.0 357.6 444.2C359.1 445.4 360.7 446.9 361.9 447.8C363.1 448.7 364.0 449.3 364.9 449.3C365.8 449.3 366.3 447.3 367.0 447.8C367.7 448.3 368.5 450.9 369.2 452.2C369.9 453.5 370.5 455.2 371.0 455.6C371.5 456.0 371.9 455.2 372.4 454.4C372.9 453.6 373.4 451.5 373.9 450.8C374.4 450.1 374.9 449.1 375.4 450.0C375.9 450.9 376.3 453.6 376.8 455.9C377.3 458.2 377.8 462.3 378.3 463.9C378.8 465.5 379.2 465.8 379.7 465.4C380.2 465.0 380.7 463.8 381.2 461.7C381.7 459.6 382.3 455.0 382.7 453.0C383.1 451.0 383.4 449.7 383.8 449.7C384.2 449.7 384.5 450.8 384.9 453.0C385.3 455.2 385.9 460.1 386.4 463.2C386.9 466.3 387.3 470.0 387.8 471.9C388.3 473.8 388.8 474.6 389.3 474.6C389.8 474.6 390.2 474.3 390.7 471.9C391.2 469.5 391.7 463.7 392.2 460.3C392.7 456.9 393.1 453.4 393.6 451.5C394.1 449.6 394.6 448.9 395.1 448.9C395.6 448.9 396.1 449.1 396.6 451.5C397.1 453.9 397.5 459.6 398.0 463.2C398.5 466.8 398.9 470.9 399.5 473.4C400.1 475.9 400.6 477.2 401.4 478.1C402.2 479.0 403.1 478.8 404.3 478.9C405.5 479.0 407.5 478.9 408.7 478.5C409.9 478.1 410.8 476.7 411.6 476.6C412.5 476.5 413.1 477.3 413.8 477.8C414.5 478.3 415.4 479.1 416.0 479.5C416.6 479.9 416.9 480.4 417.4 480.0C417.9 479.6 418.4 478.2 418.9 477.0C419.4 475.8 419.8 473.7 420.4 472.7C421.0 471.7 421.9 471.6 422.6 471.2C423.3 470.8 424.1 471.5 424.7 470.2C425.3 468.9 425.7 465.6 426.2 463.2C426.7 460.8 427.3 457.4 427.7 455.9C428.1 454.4 428.4 453.9 428.8 454.1C429.2 454.3 429.6 455.3 430.1 457.3C430.6 459.3 431.1 463.4 431.6 466.1C432.1 468.8 432.5 471.7 433.1 473.4C433.7 475.1 434.1 475.6 435.0 476.3C435.9 477.0 437.3 477.5 438.6 477.8C439.9 478.1 441.4 478.2 443.0 478.1C444.6 478.1 446.9 477.8 448.0 477.5C449.1 477.2 449.3 477.7 449.9 476.3C450.5 474.9 450.9 472.2 451.4 469.0C451.9 465.8 452.3 460.7 452.8 457.3C453.3 453.9 453.9 450.3 454.3 448.6C454.8 446.9 455.1 446.6 455.5 447.1C455.9 447.6 456.4 449.1 456.8 451.5C457.2 453.9 457.7 458.9 458.2 461.7C458.7 464.5 459.1 466.8 459.7 468.3C460.2 469.8 460.9 470.8 461.5 470.5C462.1 470.2 462.6 469.0 463.1 466.8C463.6 464.6 464.0 460.3 464.5 457.3C465.0 454.3 465.5 450.5 466.0 448.6C466.5 446.7 466.9 445.9 467.4 446.0C467.9 446.1 468.4 447.4 468.9 449.3C469.4 451.2 469.9 455.4 470.4 457.3C470.9 459.2 471.3 460.6 471.8 460.5C472.3 460.4 472.8 458.5 473.3 456.6C473.8 454.7 474.2 451.1 474.7 449.3C475.2 447.5 475.7 446.1 476.2 445.7C476.7 445.3 477.2 446.1 477.7 447.1C478.2 448.1 478.6 450.9 479.1 451.5C479.6 452.1 480.1 451.7 480.6 450.8C481.1 449.9 481.5 447.6 482.0 446.4C482.5 445.2 483.1 443.9 483.8 443.5C484.5 443.1 485.3 444.4 486.0 444.2C486.7 443.9 487.5 442.7 488.2 442.0C488.9 441.3 489.5 440.3 490.4 439.8C491.2 439.3 492.3 439.6 493.3 439.1C494.3 438.6 495.1 437.5 496.2 436.9C497.3 436.3 498.6 436.1 499.9 435.4C501.2 434.7 502.8 433.3 504.2 432.5C505.6 431.7 507.1 431.3 508.6 430.8C510.1 430.3 511.5 429.9 513.0 429.6C514.5 429.3 516.2 429.0 517.4 428.9C518.6 428.8 519.6 428.9 520.0 428.9" fill="none" stroke="#40f020" stroke-width="2.3" stroke-linejoin="round" stroke-linecap="round"/>
<path d="M313.0 388.1C313.9 388.2 316.4 388.1 318.1 388.4C319.8 388.6 321.5 389.1 323.2 389.6C324.9 390.1 326.7 390.8 328.4 391.4C330.1 392.0 332.3 393.0 333.5 393.2C334.7 393.4 334.8 392.5 335.7 392.8C336.6 393.1 337.4 394.5 338.6 395.1C339.8 395.7 341.7 395.9 343.0 396.2C344.3 396.5 345.6 396.4 346.6 396.9C347.6 397.4 348.0 398.2 348.8 399.1C349.6 400.0 350.9 402.0 351.7 402.4C352.5 402.8 353.3 401.6 353.9 401.3C354.5 401.0 354.9 400.1 355.4 400.5C355.9 400.9 356.3 402.2 356.8 403.5C357.3 404.8 357.8 407.3 358.3 408.3C358.8 409.3 359.2 409.8 359.7 409.7C360.2 409.6 360.7 409.0 361.2 407.8C361.7 406.6 362.2 403.7 362.7 402.7C363.2 401.7 363.7 401.4 364.1 401.6C364.5 401.9 364.9 402.6 365.3 404.2C365.7 405.8 366.1 409.3 366.6 411.5C367.1 413.7 367.6 416.1 368.1 417.3C368.6 418.5 369.0 419.0 369.5 418.8C370.0 418.6 370.6 417.8 371.0 415.9C371.4 413.9 371.8 409.4 372.2 407.1C372.6 404.8 372.9 403.0 373.3 402.0C373.7 401.0 374.2 400.9 374.6 401.3C375.0 401.7 375.4 401.8 375.8 404.2C376.2 406.6 376.8 412.4 377.3 415.9C377.8 419.4 378.4 423.1 378.9 425.0C379.4 426.9 379.8 427.4 380.5 427.6C381.2 427.8 382.4 427.6 383.1 426.1C383.8 424.6 384.1 422.5 384.6 418.8C385.1 415.1 385.7 407.6 386.1 404.2C386.5 400.8 386.9 399.6 387.2 398.4C387.5 397.2 387.8 397.0 388.2 397.2C388.6 397.4 389.0 397.4 389.4 399.8C389.8 402.2 390.2 407.4 390.7 411.5C391.2 415.6 391.7 421.4 392.2 424.6C392.7 427.8 392.9 429.2 393.6 430.5C394.3 431.8 395.1 431.8 396.3 432.2C397.5 432.6 399.1 432.9 400.7 433.0C402.3 433.1 404.4 432.9 405.8 432.7C407.2 432.5 408.3 432.0 409.4 431.6C410.5 431.2 411.4 430.1 412.3 430.2C413.2 430.3 413.8 431.6 414.5 432.2C415.2 432.8 416.1 434.1 416.7 433.8C417.3 433.5 417.7 432.5 418.2 430.5C418.7 428.5 419.3 423.8 419.9 421.7C420.5 419.6 421.1 418.6 421.8 418.1C422.5 417.6 423.3 419.1 424.0 418.5C424.7 417.9 425.3 416.0 425.8 414.4C426.3 412.8 426.8 410.2 427.2 408.9C427.6 407.6 428.0 406.7 428.4 406.8C428.8 406.9 429.2 407.3 429.6 409.3C430.0 411.3 430.5 415.8 431.0 418.8C431.5 421.9 432.1 425.7 432.8 427.6C433.5 429.5 434.0 429.6 435.0 430.2C436.0 430.8 437.3 430.7 438.6 430.9C439.9 431.1 441.3 431.6 443.0 431.6C444.7 431.7 447.1 431.1 448.8 431.2C450.5 431.2 452.0 432.1 453.1 431.9C454.2 431.6 454.7 431.1 455.3 429.7C455.9 428.2 456.3 426.5 456.8 423.2C457.3 419.9 457.7 414.1 458.2 410.0C458.7 405.9 459.2 401.3 459.7 398.4C460.2 395.5 460.8 393.5 461.2 392.5C461.6 391.5 461.8 391.2 462.2 392.2C462.6 393.2 463.0 395.2 463.4 398.4C463.8 401.6 464.3 407.6 464.8 411.5C465.3 415.4 466.0 419.7 466.6 421.7C467.2 423.7 467.8 423.4 468.5 423.5C469.2 423.6 470.1 424.1 470.7 422.4C471.3 420.6 471.8 416.8 472.4 413.0C473.0 409.2 473.7 402.9 474.3 399.8C474.9 396.8 475.4 395.6 475.8 394.7C476.2 393.8 476.4 393.4 476.8 394.7C477.2 396.0 477.6 399.9 478.2 402.7C478.8 405.5 479.5 409.6 480.1 411.5C480.7 413.4 481.1 414.1 481.6 414.1C482.1 414.1 482.5 413.6 483.1 411.5C483.7 409.4 484.4 403.9 485.0 401.3C485.6 398.8 486.2 397.0 486.7 396.2C487.2 395.4 487.4 395.9 487.9 396.6C488.4 397.3 489.0 399.5 489.6 400.5C490.2 401.5 491.2 402.6 491.8 402.7C492.4 402.8 492.7 402.3 493.3 401.3C493.9 400.3 494.8 397.9 495.5 396.9C496.2 395.9 497.0 395.1 497.7 395.1C498.4 395.1 499.2 397.1 499.9 396.9C500.6 396.7 501.3 395.2 502.0 394.0C502.7 392.8 503.5 390.5 504.2 389.6C504.9 388.7 505.7 388.3 506.4 388.4C507.1 388.5 507.8 390.2 508.6 390.3C509.5 390.4 510.5 389.4 511.5 388.9C512.5 388.3 513.5 387.2 514.5 387.0C515.5 386.8 516.5 387.4 517.4 387.4C518.3 387.4 519.6 387.1 520.0 387.0" fill="none" stroke="#1020f0" stroke-width="2.3" stroke-linejoin="round" stroke-linecap="round"/>
<path d="M313.0 342.2C313.5 342.4 314.8 343.5 315.9 343.7C317.0 343.9 318.4 343.0 319.6 343.2C320.8 343.4 322.0 344.0 323.2 344.7C324.4 345.4 325.8 346.7 326.9 347.2C328.0 347.7 328.8 347.9 329.8 347.6C330.8 347.3 331.9 345.3 332.7 345.4C333.5 345.5 334.0 347.7 334.9 348.4C335.8 349.1 336.8 349.5 337.8 349.8C338.8 350.1 339.9 350.0 340.8 350.1C341.7 350.2 342.4 349.8 343.2 350.5C344.0 351.2 344.9 353.1 345.6 354.2C346.3 355.2 346.9 356.3 347.6 356.8C348.3 357.3 349.3 357.7 350.0 357.4C350.7 357.1 351.2 355.5 351.7 354.9C352.2 354.3 352.7 353.6 353.2 353.9C353.7 354.1 354.3 354.6 354.9 356.4C355.5 358.1 356.2 362.0 356.8 364.4C357.4 366.8 357.8 369.2 358.3 370.5C358.8 371.8 359.2 372.5 359.7 372.0C360.2 371.5 360.7 369.8 361.2 367.3C361.7 364.8 362.2 359.8 362.7 357.1C363.2 354.4 363.7 352.1 364.1 351.0C364.5 349.9 364.9 349.7 365.3 350.5C365.7 351.3 366.1 352.9 366.6 355.7C367.1 358.5 367.5 363.6 368.1 367.3C368.7 371.0 369.4 375.2 370.0 377.6C370.6 380.0 371.3 380.8 371.9 381.6C372.5 382.4 373.0 382.5 373.6 382.2C374.2 381.9 374.9 381.7 375.4 379.7C375.9 377.7 376.3 374.6 376.8 370.3C377.3 366.1 377.9 358.6 378.3 354.2C378.8 349.8 379.1 346.2 379.5 344.0C379.9 341.8 380.2 340.9 380.6 341.1C381.0 341.3 381.4 341.9 381.8 345.4C382.2 348.9 382.6 356.1 383.1 362.0C383.6 367.9 384.1 376.2 384.6 380.5C385.2 384.8 385.7 386.2 386.4 387.8C387.1 389.4 387.8 389.6 389.0 390.0C390.2 390.4 391.7 390.3 393.4 390.4C395.1 390.5 397.4 390.6 399.2 390.4C401.0 390.2 403.0 389.7 404.3 389.2C405.6 388.7 406.4 388.0 407.2 387.5C408.0 387.0 408.5 386.2 409.1 386.3C409.7 386.4 410.3 387.3 410.9 388.1C411.5 388.9 412.1 390.3 412.6 391.0C413.1 391.7 413.6 392.5 414.1 392.2C414.6 391.9 415.0 391.1 415.5 389.2C416.0 387.2 416.4 383.9 417.0 380.5C417.6 377.1 418.3 371.3 418.9 368.8C419.5 366.3 420.1 366.0 420.7 365.6C421.3 365.2 422.0 367.2 422.6 366.6C423.2 366.0 423.7 363.6 424.3 362.2C424.9 360.8 425.6 358.8 426.2 358.3C426.8 357.8 427.2 357.8 427.7 359.3C428.2 360.8 428.6 364.2 429.1 367.3C429.7 370.4 430.3 374.9 431.0 377.6C431.7 380.3 432.4 381.9 433.1 383.4C433.8 384.8 434.5 385.6 435.4 386.3C436.3 387.0 437.3 387.4 438.6 387.8C439.9 388.2 441.5 388.6 443.0 388.8C444.5 389.0 445.9 389.1 447.4 389.2C448.8 389.3 450.4 389.3 451.7 389.2C453.0 389.1 454.3 389.0 455.3 388.5C456.3 388.0 456.8 387.9 457.5 386.3C458.2 384.7 458.8 382.2 459.3 379.0C459.8 375.8 460.2 371.9 460.7 367.3C461.2 362.7 461.7 355.7 462.2 351.3C462.7 346.9 463.1 343.4 463.6 341.1C464.1 338.9 464.7 337.8 465.1 337.8C465.6 337.8 465.9 338.4 466.3 341.1C466.7 343.8 467.2 350.1 467.7 354.2C468.2 358.3 468.9 362.7 469.5 365.9C470.1 369.1 470.8 371.5 471.4 373.2C472.0 374.9 472.7 375.4 473.3 375.8C473.9 376.2 474.4 376.3 475.0 375.4C475.6 374.5 476.2 373.1 476.8 370.3C477.4 367.5 478.1 362.5 478.7 358.6C479.3 354.7 480.1 349.5 480.6 346.9C481.2 344.3 481.5 343.1 482.0 342.8C482.5 342.6 482.9 343.5 483.5 345.4C484.1 347.3 484.8 351.8 485.3 354.2C485.8 356.6 486.2 358.5 486.7 359.7C487.2 360.9 487.9 361.3 488.5 361.2C489.1 361.1 489.8 360.7 490.4 359.3C491.0 357.9 491.5 354.6 492.1 352.7C492.7 350.8 493.4 348.6 494.0 347.6C494.6 346.6 495.0 346.4 495.5 346.6C496.0 346.9 496.6 348.4 497.2 349.1C497.8 349.8 498.5 350.8 499.1 351.0C499.7 351.2 500.3 350.8 501.0 350.1C501.7 349.4 502.4 347.6 503.1 346.6C503.8 345.6 504.7 344.2 505.4 344.0C506.1 343.8 506.5 344.4 507.2 345.1C507.9 345.8 508.6 347.8 509.3 348.4C510.0 349.0 510.6 349.0 511.2 348.6C511.8 348.2 512.3 347.0 513.0 346.2C513.7 345.4 514.6 344.1 515.2 343.7C515.8 343.3 516.1 343.3 516.6 343.7C517.1 344.1 517.9 345.5 518.5 346.2C519.1 346.9 519.8 347.4 520.0 347.6" fill="none" stroke="#66f2b0" stroke-width="2.3" stroke-linejoin="round" stroke-linecap="round"/>
<path d="M313.0 283.2C313.5 283.6 314.9 284.8 315.9 285.4C316.9 286.0 317.8 286.8 318.9 286.6C320.0 286.4 321.4 284.1 322.5 284.0C323.6 283.9 324.4 285.2 325.4 286.2C326.4 287.2 327.4 288.9 328.4 289.8C329.4 290.7 330.3 291.7 331.3 291.6C332.3 291.5 333.4 289.7 334.2 289.1C335.0 288.5 335.3 287.7 335.9 288.1C336.5 288.5 337.1 290.0 337.8 291.3C338.5 292.6 339.3 295.3 340.0 295.9C340.7 296.5 341.4 295.5 342.2 294.9C343.0 294.2 344.0 292.0 344.7 292.0C345.4 292.0 345.9 293.3 346.6 294.9C347.3 296.5 348.1 299.2 348.8 301.5C349.5 303.8 350.4 307.3 351.0 308.8C351.6 310.3 351.8 311.0 352.4 310.5C352.9 310.0 353.7 308.4 354.3 305.9C354.9 303.4 355.5 298.1 356.1 295.7C356.7 293.3 357.3 291.9 357.8 291.7C358.3 291.4 358.7 291.6 359.3 294.2C359.9 296.8 360.5 302.9 361.2 307.3C361.9 311.7 362.7 317.0 363.4 320.5C364.1 324.0 364.9 326.9 365.6 328.5C366.3 330.1 366.9 330.1 367.5 330.0C368.1 329.9 368.9 330.4 369.5 327.8C370.1 325.2 370.8 319.7 371.4 314.6C372.0 309.5 372.4 302.5 372.9 297.1C373.4 291.8 373.9 285.4 374.3 282.5C374.7 279.6 375.1 279.4 375.5 279.6C375.9 279.9 376.4 280.4 376.8 284.0C377.2 287.6 377.6 294.9 378.0 301.5C378.4 308.1 378.8 317.6 379.2 323.4C379.6 329.2 380.1 333.7 380.6 336.5C381.1 339.3 381.7 339.5 382.4 340.2C383.1 340.9 383.0 340.5 384.6 340.6C386.2 340.7 389.5 340.6 391.9 340.6C394.3 340.7 397.2 340.9 399.2 340.9C401.1 340.9 402.4 341.1 403.6 340.6C404.8 340.1 405.4 338.3 406.2 337.7C407.0 337.1 407.5 336.6 408.2 336.8C408.9 337.0 409.4 337.8 410.1 338.7C410.8 339.6 411.6 341.5 412.3 342.1C413.0 342.7 413.9 343.1 414.5 342.4C415.1 341.7 415.5 340.7 416.0 338.0C416.5 335.3 416.8 330.2 417.4 326.3C418.0 322.4 418.9 318.1 419.6 314.6C420.3 311.1 421.1 307.2 421.8 305.1C422.5 303.0 423.3 302.2 424.0 302.2C424.7 302.2 425.3 303.0 425.8 305.1C426.3 307.2 426.8 312.1 427.2 314.6C427.6 317.1 427.8 318.9 428.4 320.2C429.0 321.5 430.2 321.2 431.0 322.7C431.8 324.2 432.3 327.4 433.1 329.2C433.9 331.0 434.7 332.4 435.7 333.6C436.7 334.8 438.1 336.0 439.3 336.5C440.5 337.0 441.9 336.6 443.0 336.8C444.1 337.1 444.7 337.9 445.9 338.0C447.1 338.1 448.6 337.8 450.0 337.7C451.4 337.6 453.0 337.6 454.6 337.3C456.2 337.1 458.4 336.7 459.7 336.2C461.0 335.7 461.8 335.7 462.6 334.3C463.4 332.9 463.9 331.1 464.5 327.8C465.1 324.5 465.5 319.7 466.0 314.6C466.5 309.5 466.9 301.7 467.4 297.1C467.9 292.5 468.5 288.8 468.9 286.9C469.3 285.0 469.5 285.2 469.9 285.7C470.3 286.2 470.6 286.9 471.1 289.8C471.6 292.7 472.2 298.6 472.8 303.0C473.4 307.4 474.3 312.8 475.0 316.1C475.7 319.4 476.5 321.2 477.2 322.7C477.9 324.2 478.7 324.5 479.4 324.9C480.1 325.3 480.9 325.9 481.6 324.9C482.3 323.9 482.9 321.9 483.5 319.0C484.1 316.1 484.7 310.9 485.3 307.3C485.9 303.7 486.4 299.2 487.0 297.1C487.6 295.0 488.3 295.0 488.9 294.9C489.5 294.8 489.8 294.8 490.4 296.4C491.0 298.0 491.7 302.3 492.3 304.4C492.9 306.5 493.4 308.3 494.0 309.1C494.6 309.9 495.5 309.5 496.2 309.2C496.9 308.9 497.7 308.6 498.4 307.3C499.1 306.0 499.9 303.4 500.6 301.5C501.3 299.6 502.2 297.0 502.8 295.9C503.4 294.8 503.6 294.8 504.2 294.9C504.8 295.0 505.7 296.1 506.4 296.8C507.1 297.5 507.9 299.1 508.6 299.3C509.3 299.6 510.1 298.8 510.8 298.3C511.5 297.8 512.3 296.7 513.0 296.1C513.7 295.5 514.5 295.0 515.2 294.9C515.9 294.8 516.7 295.3 517.4 295.2C518.1 295.1 519.2 294.4 519.6 294.2" fill="none" stroke="#b020f0" stroke-width="2.3" stroke-linejoin="round" stroke-linecap="round"/>
<text x="529.3" y="300.7" font-size="11.5">10T</text>
<text x="527.7" y="352.9" font-size="11.5">8T</text>
<text x="527.7" y="393.0" font-size="11.5">6T</text>
<text x="527.7" y="433.1" font-size="11.5">4T</text>
<text x="527.7" y="478.4" font-size="11.5">2T</text>
<text x="527.7" y="513.3" font-size="11.5">0T</text>
<text x="342.2" y="286.9" font-size="11.5">–3</text>
<text x="357.6" y="287.6" font-size="11.5">–2</text>
<text x="374.0" y="275.5" font-size="11.5">–1</text>
<text x="424.0" y="296.1" font-size="11.5">0</text>
<text x="469.3" y="283.4" font-size="11.5">1</text>
<text x="486.7" y="289.4" font-size="11.5">2</text>
<text x="504.2" y="288.7" font-size="11.5">3</text>
</svg>
</body></html>
